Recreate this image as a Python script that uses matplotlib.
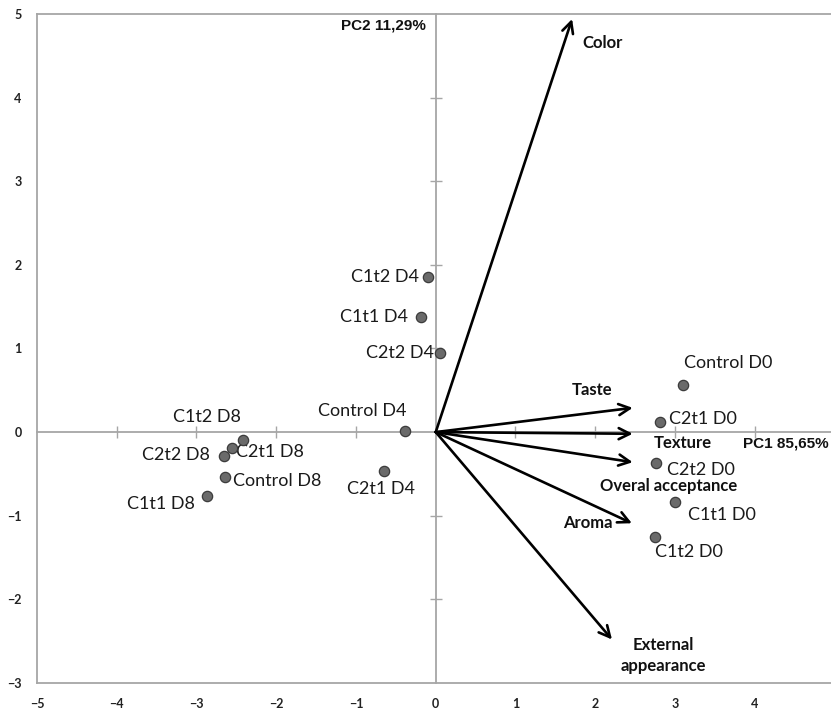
import matplotlib
matplotlib.use("Agg")
import matplotlib.pyplot as plt

# ---- data ----
sample_names = ["C1t2 D4", "C1t1 D4", "C2t2 D4", "Control D4", "C2t1 D4",
                "C1t2 D8", "C2t1 D8", "C2t2 D8", "Control D8", "C1t1 D8",
                "Control D0", "C2t1 D0", "C2t2 D0", "C1t1 D0", "C1t2 D0"]
pc1_scores = [-0.10, -0.19, 0.05, -0.39, -0.65,
              -2.42, -2.55, -2.66, -2.64, -2.87,
              3.10, 2.81, 2.76, 3.00, 2.75]
pc2_scores = [1.85, 1.38, 0.94, 0.01, -0.46,
              -0.09, -0.19, -0.29, -0.54, -0.77,
              0.56, 0.12, -0.37, -0.84, -1.26]

attributes = ["Color", "Taste", "Texture", "Overal acceptance", "Aroma",
              "External\nappearance"]
load_pc1 = [1.71, 2.47, 2.47, 2.47, 2.46, 2.21]
load_pc2 = [4.94, 0.29, -0.02, -0.36, -1.09, -2.48]

x_ticks = [-5, -4, -3, -2, -1, 0, 1, 2, 3, 4]
y_ticks = [-3, -2, -1, 0, 1, 2, 3, 4, 5]
pc1_label = "PC1 85,65%"
pc2_label = "PC2 11,29%"

# ---- label offsets (pixels) ----
sample_offsets = [(-43, 0), (-47, 0), (-40, 0), (-42, 20), (-3, -18),
                  (-36, 23), (38, -4), (-48, 1), (52, -4), (-46, -8),
                  (45, 22), (43, 3), (45, -7), (47, -13), (34, -15)]
attr_offsets = [(30, -24), (-41, 18), (50, -9), (36, -24), (-44, 0), (51, -16)]

fig = plt.figure(figsize=(8.31, 7.09), dpi=100)
pos = [0.0445, 0.0367, 0.9597, 0.9436]
ax = fig.add_axes(pos)
ax.set_xlim(-5, 5)
ax.set_ylim(-3, 5)
grey = "#a6a6a6"
for s in ["left", "top", "bottom", "right"]:
    ax.spines[s].set_color(grey)
    ax.spines[s].set_linewidth(1.3)
ax.set_xticks(x_ticks)
ax.set_yticks(y_ticks)
ax.tick_params(length=0, labelsize=9, labelcolor="#222222")
ax.tick_params(axis="x", pad=11)
ax.tick_params(axis="y", pad=11)
for lab in ax.get_xticklabels() + ax.get_yticklabels():
    lab.set_fontfamily("Lato")
    lab.set_fontweight("bold")

# central axes overlay
ax2 = fig.add_axes(pos)
ax2.set_xlim(-5, 5)
ax2.set_ylim(-3, 5)
ax2.patch.set_visible(False)
ax2.spines["left"].set_position(("data", 0))
ax2.spines["bottom"].set_position(("data", 0))
ax2.spines["top"].set_visible(False)
ax2.spines["right"].set_visible(False)
for s in ["left", "bottom"]:
    ax2.spines[s].set_color(grey)
    ax2.spines[s].set_linewidth(1.3)
ax2.tick_params(direction="inout", length=9, width=1.0, color=grey,
                labelleft=False, labelbottom=False)
ax2.set_xticks([t for t in x_ticks if t not in (-5, 0)])
ax2.set_yticks([t for t in y_ticks if t not in (-3, 0, 5)])

# arrows
for name, lx, ly, off in zip(attributes, load_pc1, load_pc2, attr_offsets):
    ax2.annotate("", xy=(lx, ly), xytext=(0, 0),
                 arrowprops=dict(arrowstyle="->", lw=1.9, color="black",
                                 mutation_scale=20, shrinkA=0, shrinkB=0))
    ax2.annotate(name, xy=(lx, ly), xytext=off, textcoords="offset pixels",
                 ha="center", va="center", fontsize=12, fontweight="bold",
                 family="Lato", color="#111111", linespacing=1.45)

# points
ax2.scatter(pc1_scores, pc2_scores, s=55, color="#6a6a6a",
            edgecolor="#3c3c3c", linewidth=0.9, zorder=5)
for name, px, py, off in zip(sample_names, pc1_scores, pc2_scores, sample_offsets):
    ax2.annotate(name, xy=(px, py), xytext=off, textcoords="offset pixels",
                 ha="center", va="center", fontsize=13, family="Lato",
                 color="#1a1a1a")

ax2.text(4.39, -0.14, pc1_label, ha="center", va="center", fontsize=11,
         fontweight="bold", family="Liberation Sans", color="#111111")
ax2.text(-0.65, 4.86, pc2_label, ha="center", va="center", fontsize=11,
         fontweight="bold", family="Liberation Sans", color="#111111")

fig.savefig("out.png", dpi=100)
